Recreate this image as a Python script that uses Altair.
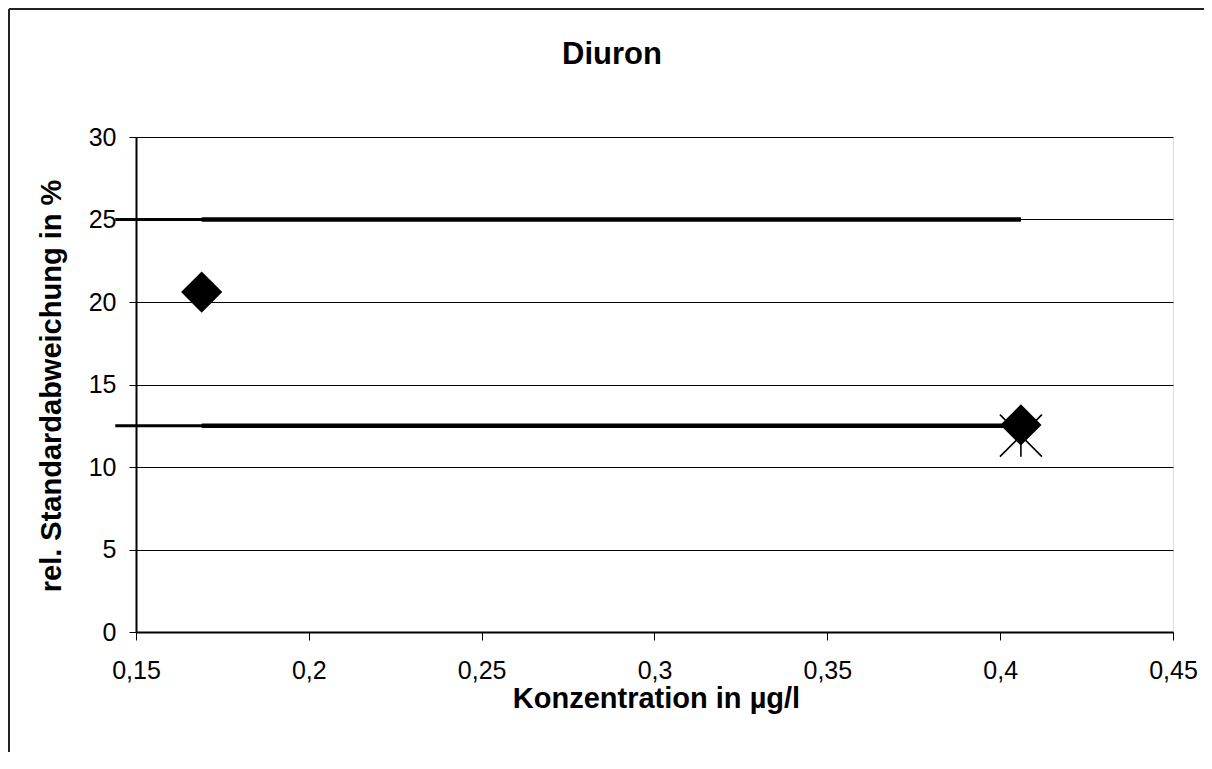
import altair as alt
import pandas as pd

# ---- data ----
diamond_conc = [0.169, 0.406]
diamond_rsd = [20.6, 12.55]

star_conc = [0.406]
star_rsd = [11.9]

# horizontal limit lines (two overlapping segments each)
limit_start = [0.144, 0.169, 0.144, 0.169]
limit_end = [0.406, 0.406, 0.406, 0.406]
limit_level = [25, 25, 12.5, 12.5]
limit_width = [3, 4.5, 3, 4.5]

x_ticks = [0.15, 0.2, 0.25, 0.3, 0.35, 0.4, 0.45]
y_ticks = [0, 5, 10, 15, 20, 25, 30]

title_text = "Diuron"
x_title = "Konzentration in µg/l"
y_title = "rel. Standardabweichung in %"

FONT = "Liberation Sans"
W, H = 1037, 495

df_d = pd.DataFrame({"c": diamond_conc, "r": diamond_rsd})
df_s = pd.DataFrame({"c": star_conc, "r": star_rsd})
df_l = pd.DataFrame({"c": limit_start, "c2": limit_end, "r": limit_level, "w": limit_width})
one = pd.DataFrame({"k": [0]})

xs = alt.Scale(domain=[0.15, 0.45], nice=False, zero=False)
ys = alt.Scale(domain=[0, 30], nice=False)

xaxis = alt.Axis(
    values=x_ticks, grid=False, tickSize=8, labelPadding=18, labelFlush=False,
    labelExpr="replace(format(datum.value, '~g'), '.', ',')",
    labelFontSize=25, labelFont=FONT, labelColor="black",
    tickColor="black", domainColor="black", domainWidth=2,
    title=x_title, titleFont=FONT, titleFontSize=29, titleFontWeight="bold",
    titleColor="black", titleX=520, titleY=75, titleBaseline="alphabetic",
    titleAlign="center", titleAnchor="middle",
)
yaxis = alt.Axis(
    values=y_ticks, grid=True, gridColor="black", gridWidth=1,
    tickSize=7, labelPadding=13, labelFlush=False,
    labelFontSize=25, labelFont=FONT, labelColor="black",
    tickColor="black", domainColor="black", domainWidth=2,
    title=y_title, titleFont=FONT, titleFontSize=29, titleFontWeight="bold",
    titleColor="black", titleX=-76, titleY=H / 2 + 1, titleBaseline="alphabetic",
    titleAlign="center", titleAngle=270,
)

base_axes = alt.Chart(df_d).mark_point(opacity=0).encode(
    x=alt.X("c:Q", scale=xs, axis=xaxis),
    y=alt.Y("r:Q", scale=ys, axis=yaxis),
)

lines = alt.Chart(df_l).mark_rule(color="black").encode(
    x=alt.X("c:Q", scale=xs),
    x2="c2:Q",
    y=alt.Y("r:Q", scale=ys),
    strokeWidth=alt.StrokeWidth("w:Q", scale=None, legend=None),
)

star_path = "M-1,-1L1,1M-1,1L1,-1M0,-1L0,1"
stars = alt.Chart(df_s).mark_point(
    shape=star_path, filled=False, stroke="black", strokeWidth=1.6, size=1764, opacity=1
).encode(x=alt.X("c:Q", scale=xs), y=alt.Y("r:Q", scale=ys))

diamonds = alt.Chart(df_d).mark_point(
    shape="diamond", filled=True, color="black", size=1700, opacity=1
).encode(x=alt.X("c:Q", scale=xs), y=alt.Y("r:Q", scale=ys))

title = alt.Chart(one).mark_text(
    text=title_text, font=FONT, fontSize=31, fontWeight="bold",
    align="center", baseline="alphabetic", color="black",
).encode(x=alt.value(476), y=alt.value(-73))

frame_left = alt.Chart(one).mark_rule(color="#222", strokeWidth=2).encode(
    x=alt.value(-127), y=alt.value(-128), y2=alt.value(H + 130)
)
frame_top = alt.Chart(one).mark_rule(color="#222", strokeWidth=2).encode(
    x=alt.value(-127), x2=alt.value(W + 40), y=alt.value(-128)
)

chart = alt.layer(
    base_axes, frame_left, frame_top, title, lines, stars, diamonds
).properties(
    width=W, height=H,
    autosize=alt.AutoSizeParams(type="none"),
    padding={"left": 128, "top": 129, "right": 31, "bottom": 120},
).configure_view(
    stroke="black", strokeWidth=1.5
).configure(background="white")

chart.save("out.html", embed_options={"renderer": "svg", "actions": False})
